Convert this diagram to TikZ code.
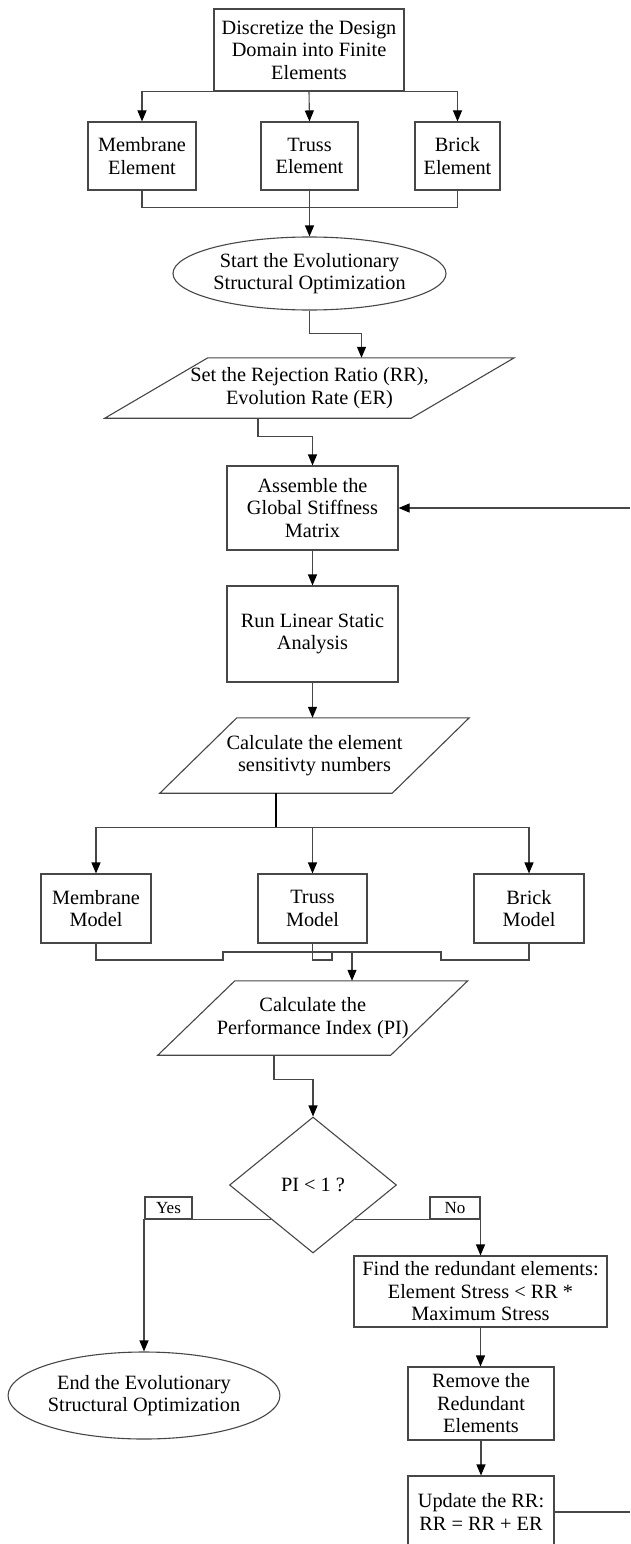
\documentclass[tikz,border=0pt]{standalone}
\usepackage{fontspec}
\setmainfont{Liberation Serif}
\usetikzlibrary{arrows.meta,shapes.geometric,calc}
\newcommand\flowfont{\fontsize{20.3}{22.5}\selectfont}
\newcommand\labfont{\fontsize{17}{19}\selectfont}
\newcommand\parashape[2]{\draw[ln] ([xshift=#2]#1.north west) -- ([xshift=#2]#1.north east) -- ([xshift=-#2]#1.south east) -- ([xshift=-#2]#1.south west) -- cycle;}
\tikzset{
  ln/.style={draw=black!72, line width=1.1pt},
  arr/.style={ln, -{Triangle[length=11pt,width=9pt,color=black]}},
  box/.style={draw=black!72, line width=1.1pt, rectangle, inner sep=0pt, align=center, font=\flowfont},
  parabox/.style={rectangle, inner sep=0pt, align=center, font=\flowfont},
  oval/.style={draw=black!72, line width=1.1pt, ellipse, inner sep=0pt, align=center, font=\flowfont},
  lab/.style={draw=black!72, line width=1.1pt, rectangle, inner sep=0pt, font=\labfont, minimum height=22pt}
}
\begin{document}
\begin{tikzpicture}[x=1pt,y=-1pt]
\useasboundingbox (0,0) rectangle (630,1544);
\clip (0,0) rectangle (630,1544);
\fill[white] (0,0) rectangle (630,1544);

% nodes
\node[box, minimum width=190pt, minimum height=82pt] (top) at (309,50) {Discretize the Design\\Domain into Finite\\Elements};
\node[box, minimum width=108pt, minimum height=68pt] (memE) at (142,156) {Membrane\\Element};
\node[box, minimum width=97pt, minimum height=68pt] (trussE) at (309.5,156) {Truss\\Element};
\node[box, minimum width=85pt, minimum height=68pt] (brickE) at (457.5,156) {Brick\\Element};
\node[oval, minimum width=273pt, minimum height=73pt] (start) at (309.5,273.5) {Start the Evolutionary\\Structural Optimization};
\node[parabox, minimum width=306pt, minimum height=60pt] (rr) at (309.5,388) {Set the Rejection Ratio (RR),\\Evolution Rate (ER)};
\parashape{rr}{51.5pt}
\node[box, minimum width=171pt, minimum height=84pt] (asm) at (312.5,508) {Assemble the\\Global Stiffness\\Matrix};
\node[box, minimum width=171pt, minimum height=96pt] (run) at (312.5,634) {Run Linear Static\\Analysis};
\node[parabox, minimum width=232pt, minimum height=75pt] (sens) at (314.5,755.5) {Calculate the element\\sensitivty numbers};
\parashape{sens}{38.5pt}
\node[box, minimum width=110pt, minimum height=69pt] (memM) at (96,908.5) {Membrane\\Model};
\node[box, minimum width=109pt, minimum height=69pt] (trussM) at (312.5,908.5) {Truss\\Model};
\node[box, minimum width=110pt, minimum height=69pt] (brickM) at (529,908.5) {Brick\\Model};
\node[parabox, minimum width=232.5pt, minimum height=74pt] (pi) at (312.75,1018) {Calculate the\\Performance Index (PI)};
\parashape{pi}{38.5pt}
\node[draw=black!72, line width=1.1pt, diamond, inner sep=0pt, minimum width=167pt, minimum height=136pt, font=\flowfont] (dec) at (313,1185) {PI < 1 ?};
\node[box, minimum width=253pt, minimum height=71pt] (find) at (480.5,1291.5) {Find the redundant elements:\\Element Stress < RR *\\Maximum Stress};
\node[oval, minimum width=268pt, minimum height=87pt] (end) at (144,1395.5) {End the Evolutionary\\Structural Optimization};
\node[box, minimum width=146pt, minimum height=73pt] (remove) at (481,1403.5) {Remove the\\Redundant\\Elements};
\node[box, minimum width=146pt, minimum height=72pt] (update) at (481,1512) {Update the RR:\\RR = RR + ER};

% connectors, top part
\draw[arr] (top.south) -| (memE.north);
\draw[arr] (top.south) -- (trussE.north);
\draw[arr] (top.south) -| (brickE.north);
\draw[ln] (memE.south) -- ++(0,17) -| (brickE.south);
\draw[arr] (trussE.south) -- (start.north);
\draw[arr] (start.south) -- ++(0,23) -| ([xshift=52pt]rr.north);
\draw[arr] ([xshift=-51.5pt]rr.south) -- ++(0,18) -| (asm.north);
\draw[arr] (asm.south) -- (run.north);
\draw[arr] (run.south) -- (run.south |- sens.north);

% branch to models
\draw[ln, draw=black] ([xshift=-38.5pt]sens.south) -- ++(0,34) coordinate (bj);
\draw[arr] (bj) -| (memM.north);
\draw[arr] (bj) -| (trussM.north);
\draw[arr] (bj) -| (brickM.north);

% merge from models
\coordinate (mA) at (223,960);
\coordinate (mB) at (223,952);
\coordinate (mC) at (441,952);
\coordinate (mD) at (441,960);
\draw[ln] (memM.south) |- (mA) -- (mB) -- (mC) -- (mD) -| (brickM.south);
\coordinate (tA) at (332,960);
\coordinate (tB) at (332,952);
\draw[ln] (trussM.south) |- (tA) -- (tB);
\coordinate (pj) at (352,952);
\draw[ln] (tB) -- (pj);
\draw[arr] (pj) -- (pj |- pi.north);

\draw[arr] ([xshift=-38.75pt]pi.south) -- ++(0,24) -| (dec.north);

% decision
\draw[arr] (dec.south west) -| (end.north);
\draw[arr] (dec.south east) -| (find.north);
\node[lab, minimum width=47pt] (yes) at (168.5,1208) {Yes};
\node[lab, minimum width=50pt] (no) at (455,1208) {No};

\draw[arr] (find.south) -- (find.south |- remove.north);
\draw[arr] (remove.south) -- (update.north);

% loop back (runs off the picture)
\coordinate (loopR) at (630,1512);
\coordinate (loopT) at (630,508);
\draw[ln] (update.east) -- (loopR);
\draw[arr] (loopT) -- (asm.east);
\end{tikzpicture}
\end{document}
